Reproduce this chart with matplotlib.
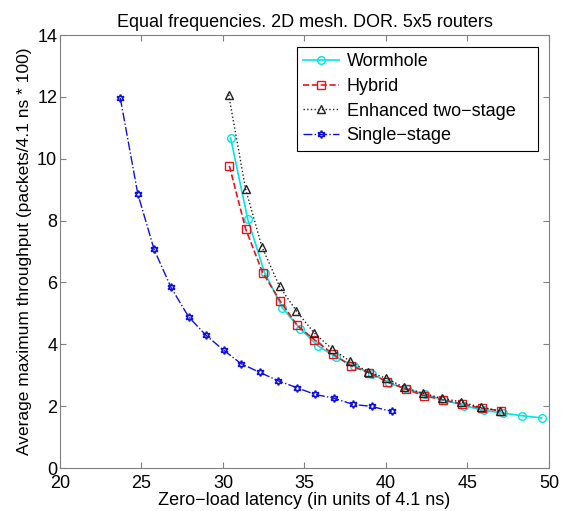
import matplotlib
matplotlib.use("Agg")
import matplotlib.pyplot as plt

plt.rcParams['font.family'] = ['Liberation Sans', 'DejaVu Sans']

# Wormhole
worm_x = [30.47, 31.51, 32.55, 33.64, 34.74, 35.85, 36.95, 38.05, 39.12, 40.2,
          41.3, 42.4, 43.55, 44.8, 46.0, 47.15, 48.35, 49.55]
worm_y = [10.67, 8.06, 6.32, 5.18, 4.5, 3.94, 3.58, 3.3, 3.05, 2.75,
          2.55, 2.38, 2.2, 2.02, 1.86, 1.78, 1.69, 1.62]

# Hybrid
hyb_x = [30.39, 31.39, 32.43, 33.52, 34.56, 35.6, 36.73, 37.83, 38.94, 40.08,
         41.2, 42.35, 43.5, 44.68, 45.87, 47.03]
hyb_y = [9.77, 7.73, 6.32, 5.39, 4.61, 4.15, 3.69, 3.31, 3.08, 2.79,
         2.55, 2.34, 2.2, 2.07, 1.93, 1.85]

# Enhanced two-stage
enh_x = [30.35, 31.39, 32.39, 33.47, 34.5, 35.57, 36.67, 37.78, 38.88, 39.98,
         41.1, 42.26, 43.44, 44.6, 45.81, 46.99]
enh_y = [12.07, 9.01, 7.15, 5.87, 5.08, 4.38, 3.86, 3.46, 3.11, 2.91,
         2.61, 2.42, 2.25, 2.14, 1.96, 1.85]

# Single-stage
single_x = [23.7, 24.77, 25.77, 26.81, 27.9, 28.96, 30.04, 31.12, 32.27, 33.39,
            34.52, 35.64, 36.79, 37.96, 39.12, 40.35]
single_y = [11.96, 8.87, 7.07, 5.84, 4.88, 4.29, 3.81, 3.37, 3.09, 2.82,
            2.6, 2.38, 2.26, 2.06, 1.99, 1.83]

xticks = [20, 25, 30, 35, 40, 45, 50]
yticks = [0, 2, 4, 6, 8, 10, 12, 14]

fig = plt.figure(figsize=(5.73, 5.11), dpi=100)
ax = fig.add_axes([0.1047, 0.0841, 0.8534, 0.8474])

ax.plot(worm_x, worm_y, '-o', color='#00e5e5', lw=1.2, ms=5.5, mfc='none', mew=1.0, label='Wormhole')
ax.plot(hyb_x, hyb_y, '--s', color='#e8141c', lw=1.2, ms=5.5, mfc='none', mew=1.0, label='Hybrid')
ax.plot(enh_x, enh_y, ':^', color='#222222', lw=1.0, ms=6, mfc='none', mew=1.0, label='Enhanced two\u2212stage')
ax.plot(single_x, single_y, '-.', marker=(6, 1, 0), color='#1010e0', lw=1.0, ms=5.5, mfc='none', mew=1.2,
        label='Single\u2212stage')

ax.set_xlim(20, 50)
ax.set_ylim(0, 14)
ax.set_xticks(xticks)
ax.set_yticks(yticks)
ax.tick_params(direction='in', top=True, right=True, labelsize=13, length=4, color='#808080')
ax.tick_params(axis='x', pad=5)
ax.tick_params(axis='y', pad=2)
for s in ax.spines.values():
    s.set_color('#808080')

ax.set_title('Equal frequencies. 2D mesh. DOR. 5x5 routers', fontsize=13, pad=6)
ax.set_xlabel('Zero\u2212load latency (in units of 4.1 ns)', fontsize=13, labelpad=0)
ax.set_ylabel('Average maximum throughput (packets/4.1 ns * 100)', fontsize=12.5, labelpad=4)

# legend box spans roughly x 297..538 px, top at 47 px
leg = ax.legend(loc='upper left', bbox_to_anchor=(0.4847, 0.0, 0.4928, 0.972), mode='expand',
                fontsize=13, fancybox=False, framealpha=1, edgecolor='black',
                handlelength=2.0, borderaxespad=0.0, labelspacing=0.42, handletextpad=0.4,
                borderpad=0.35)
leg.get_frame().set_linewidth(0.8)

fig.savefig('out.png', dpi=100)
